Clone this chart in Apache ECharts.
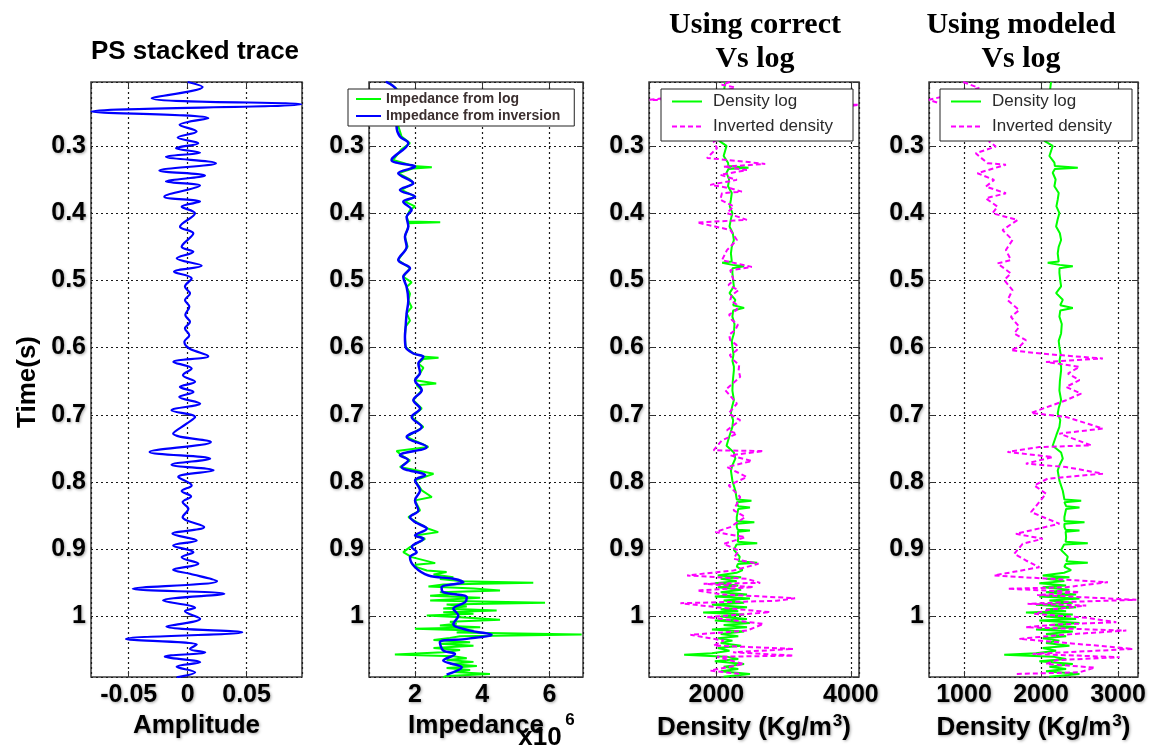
<!DOCTYPE html>
<html>
<head>
<meta charset="utf-8">
<script src="https://cdn.jsdelivr.net/npm/echarts@6/dist/echarts.min.js"></script>
<style>
  html, body { margin: 0; padding: 0; background: #fff; }
  #chart { width: 1151px; height: 753px; }
</style>
</head>
<body>
<div id="chart"></div>
<script>
// ---- PS stacked trace: amplitude against two-way time (s) ----
const psTime = [0.205,0.2126,0.229,0.238,0.2489,0.2588,0.2687,0.2787,0.2876,0.296,0.3035,0.310,0.316,0.3258,0.3367,0.3442,0.3531,0.3591,0.3755,0.3829,0.3904,0.4003,0.4202,0.430,0.450,0.4574,0.4673,0.4783,0.4872,0.4971,0.5095,0.5195,0.5294,0.5393,0.5517,0.5617,0.5716,0.5815,0.5915,0.6014,0.6128,0.6213,0.6312,0.6411,0.651,0.6585,0.666,0.6734,0.6833,0.6932,0.7032,0.7131,0.728,0.7404,0.7553,0.7652,0.7742,0.7826,0.7925,0.805,0.8134,0.8214,0.8298,0.8397,0.8521,0.867,0.877,0.8869,0.8943,0.9043,0.9117,0.9216,0.9306,0.9365,0.9474,0.9588,0.9663,0.9762,0.9871,0.9921,1.0035,1.015,1.0234,1.0333,1.0418,1.0482,1.0532,1.0597,1.0681,1.0746,1.083,1.0905];
const psAmp = [0,0.0127,-0.0305,0.0963,-0.0816,0.0175,-0.0068,0.0076,-0.0085,0.0090,-0.0099,0.0105,-0.0184,0.0240,-0.0240,0.0147,-0.0184,0.0105,-0.0198,0.0105,-0.0051,0.0062,-0.0065,0.0048,-0.0051,0.0048,-0.0093,0.0119,-0.0116,0.0034,-0.0023,0.0020,-0.0023,0.0014,-0.0020,0.0020,-0.0023,0.0014,-0.0028,0.0014,0.0175,-0.0121,0.0034,-0.0040,0.0063,-0.0066,0.0049,-0.0071,0.0106,-0.0137,0.0063,-0.0009,-0.0123,0.0197,-0.0323,0.0191,-0.0137,0.0220,-0.0080,0.0034,-0.0051,0.0029,-0.0043,0.0006,-0.0043,0.0140,-0.0129,0.0077,-0.0123,0.0049,-0.0051,0.0091,-0.0123,0.0020,0.0249,-0.0466,0.0311,-0.0209,0.0063,-0.0023,0.0106,-0.0180,0.0463,-0.0523,0.0077,0.0020,0.0149,-0.0194,0.0106,-0.0094,0.0063,-0.0094];

// ---- Acoustic impedance (x 10^6) ----
const impLogTime = [0.205,0.215,0.23,0.25,0.27,0.286,0.296,0.305,0.3209,0.330,0.3318,0.3335,0.3407,0.350,0.3556,0.3655,0.3755,0.383,0.390,0.3953,0.4053,0.4125,0.4136,0.415,0.420,0.435,0.450,0.4698,0.482,0.4947,0.503,0.510,0.520,0.530,0.540,0.549,0.560,0.569,0.584,0.599,0.6088,0.6138,0.6153,0.617,0.6237,0.630,0.638,0.6485,0.6535,0.656,0.6634,0.6783,0.6907,0.7032,0.718,0.7329,0.7478,0.7537,0.7603,0.7677,0.7777,0.7876,0.7975,0.8124,0.8223,0.8273,0.8422,0.8521,0.8596,0.8695,0.8745,0.8795,0.8844,0.8968,0.9043,0.9117,0.9206,0.9230,
  0.9266,0.9315,0.9340,0.9375,0.9415,0.9444,0.9474,0.9499,0.9524,0.9553,0.9583,0.9613,0.9638,0.9663,0.9693,0.9722,0.9762,0.9797,0.9822,0.9851,0.9881,0.9911,0.9936,0.9961,0.9985,1.0010,1.0050,1.0080,1.0109,1.0134,1.0159,1.0184,1.0209,1.0239,1.0268,1.0293,1.0318,1.0348,1.0383,1.0407,1.0437,1.0467,1.0497,1.0532,1.0566,1.0591,1.0621,1.0646,1.0675,1.0705,1.0735,1.0765,1.0795,1.0824,1.0854,1.0884,1.0904];
const impLogValue = [1.20,1.45,1.50,1.55,1.50,1.60,1.85,1.60,1.35,1.95,2.50,1.95,1.50,1.85,1.95,1.60,2.00,1.70,2.00,1.85,1.75,1.80,2.75,1.80,1.80,1.70,1.78,1.50,1.85,1.65,1.90,1.75,1.85,1.80,1.90,1.75,1.85,1.72,1.70,1.72,1.95,2.30,2.70,2.25,2.10,2.25,2.15,2.00,2.63,2.05,2.20,1.95,2.20,1.90,2.25,1.75,2.40,1.45,1.60,1.85,1.55,2.55,2.00,2.20,2.50,2.00,2.15,1.80,2.05,2.40,2.69,2.00,2.30,1.85,1.65,1.90,2.60,2.00,
  2.05,2.35,2.94,2.55,3.14,2.74,3.34,5.52,2.84,2.40,3.74,4.53,2.74,3.24,2.45,3.94,2.45,5.87,2.94,3.54,2.84,4.43,2.84,3.74,2.35,3.34,4.53,3.04,3.24,2.74,3.94,2.00,3.74,3.24,6.96,3.34,3.04,2.55,3.64,2.74,3.74,2.55,3.34,2.84,1.40,3.14,3.54,2.94,3.74,3.04,3.84,2.94,3.64,3.14,4.23,2.94,2.84];
const impInvTime = [0.2045,0.2166,0.235,0.255,0.2712,0.286,0.296,0.3209,0.331,0.3407,0.3556,0.3655,0.3755,0.383,0.3953,0.4053,0.420,0.435,0.450,0.4698,0.482,0.4947,0.510,0.530,0.549,0.569,0.584,0.599,0.6088,0.6138,0.6237,0.638,0.6485,0.6634,0.6783,0.6907,0.7032,0.718,0.7329,0.7478,0.7603,0.7677,0.7777,0.790,0.7975,0.8124,0.8273,0.8422,0.8521,0.8596,0.8695,0.8795,0.8844,0.8968,0.9043,0.9117,0.9266,0.9390,0.944,0.949,0.9564,0.9638,0.9713,0.9787,0.9886,0.9986,1.011,1.021,1.027,1.0333,1.0383,1.0507,1.0557,1.0656,1.0755,1.0865];
const impInvValue = [1.13,1.45,1.50,1.45,1.45,1.55,1.80,1.30,2.00,1.50,1.95,1.55,2.00,1.65,1.90,1.75,1.80,1.70,1.75,1.50,1.85,1.65,1.75,1.80,1.75,1.72,1.70,1.72,1.95,2.25,2.10,2.15,2.00,2.20,1.95,2.15,1.90,2.20,1.75,2.35,1.55,1.80,1.60,2.30,2.00,2.15,2.00,2.10,1.85,2.00,2.35,2.00,2.25,1.90,2.05,1.85,2.00,2.40,3.14,3.44,2.79,2.84,3.54,3.49,3.14,3.29,3.14,3.64,4.28,3.54,2.74,2.84,3.19,2.84,3.39,2.94];

// ---- Density log (kg/m^3), shared by both density panels ----
const densLogTime = [0.205,0.215,0.23,0.25,0.27,0.2836,0.2926,0.300,0.3151,0.325,0.330,0.3325,0.3345,0.340,0.350,0.360,0.370,0.380,0.390,0.400,0.410,0.420,0.430,0.440,0.450,0.460,0.472,0.474,0.477,0.479,0.482,0.489,0.500,0.509,0.519,0.529,0.537,0.541,0.545,0.554,0.565,0.579,0.590,0.599,0.610,0.620,0.628,0.634,0.650,0.664,0.678,0.690,0.698,0.708,0.718,0.730,0.746,0.756,0.765,0.775,0.783,0.798,0.813,0.826,0.828,0.830,0.836,0.838,0.840,0.852,0.858,0.860,0.862,0.867,0.871,0.872,0.874,0.882,0.889,0.891,0.893,0.901,0.911,0.918,0.920,0.922,0.926,0.931,0.935,
  0.9390,0.9415,0.9439,0.9474,0.9504,0.9539,0.9564,0.9603,0.9638,0.9673,0.9703,0.9733,0.9763,0.9797,0.9827,0.9862,0.9892,0.9921,0.9941,0.9971,1.0001,1.0036,1.0061,1.0096,1.0125,1.0160,1.0195,1.0225,1.0259,1.0294,1.0324,1.0359,1.0394,1.0434,1.0468,1.0508,1.0548,1.0568,1.0597,1.0632,1.0667,1.0707,1.0746,1.0781,1.0816,1.0856,1.0896];
const densLogValue = [2130,2120,2110,2100,2120,2130,2043,2152,2109,2174,2180,2478,2180,2152,2190,2174,2230,2217,2200,2239,2215,2196,2245,2261,2230,2217,2230,2087,2240,2413,2240,2239,2250,2261,2196,2283,2250,2413,2250,2239,2270,2261,2230,2239,2255,2240,2261,2261,2245,2239,2261,2230,2217,2250,2239,2200,2152,2261,2283,2240,2217,2239,2283,2304,2522,2304,2326,2500,2326,2304,2304,2565,2304,2304,2320,2500,2320,2326,2320,2608,2300,2261,2348,2330,2608,2320,2304,2391,2300,
  2022,2369,2065,2304,1978,2326,2022,2369,2065,2456,1978,2500,2109,2413,1935,2456,2065,2326,1804,2413,2065,2456,1978,2500,2109,2456,1935,2413,2065,2326,2022,2239,2065,2369,2022,2196,1935,1522,2152,2326,1978,2413,2109,2326,2065,2500,2109];

// ---- Inverted density using the correct Vs log ----
const invCorrTime = [0.205,0.209,0.213,0.218,0.2315,0.239,0.262,0.286,0.2935,0.3035,0.318,0.3233,0.327,0.331,0.336,0.343,0.3506,0.358,0.363,0.368,0.3705,0.380,0.390,0.400,0.410,0.414,0.425,0.440,0.455,0.470,0.480,0.485,
  0.500,0.507,0.5145,0.522,0.529,0.536,0.544,0.551,0.559,0.566,0.574,0.581,0.589,0.596,0.604,0.611,0.619,0.626,0.634,
  0.6436,0.6634,0.6833,0.698,0.708,0.723,0.728,0.7379,0.7528,0.754,0.7603,0.7687,0.7777,0.7926,0.805,0.8223,0.842,0.852,0.867,0.8745,0.882,0.892,0.9018,0.9142,0.9216,0.9315,0.939,0.944,0.950,0.9514,0.9564,0.9613,0.9673,0.9727,0.9767,0.9802,0.9862,0.9936,1.001,1.011,1.021,1.0273,1.0358,1.0432,1.0482,1.0532,1.0582,1.060,1.0706,1.0805,1.0855];
const invCorrValue = [2200,2080,2280,2150,1010,4120,2250,2133,1960,2010,1862,2405,2726,2109,2454,2059,2306,1911,2207,2380,2084,2059,2257,2158,2454,1714,2207,2306,2158,2084,2528,2207,
  2257,2180,2331,2230,2207,2300,2306,2190,2232,2320,2281,2190,2207,2300,2306,2200,2257,2340,2331,
  2355,2133,2306,2183,2355,2158,2306,2084,1960,2701,2207,2528,2158,2454,2183,2355,2257,2430,2207,1985,2430,2109,2331,2257,2627,2257,1566,2454,2652,1812,2553,1714,2084,3170,2899,1467,2010,2800,1862,2701,2454,1615,2109,1960,3145,2250,3145,2010,2405,1911,2355];

// ---- Inverted density using the modeled Vs log ----
const invModTime = [0.205,0.2067,0.214,0.222,0.2315,0.26,0.2836,0.2935,0.301,0.311,0.3258,0.328,0.3407,0.3506,0.3606,0.3705,0.378,0.3904,0.4003,0.4102,0.4251,0.44,0.4549,0.4698,0.4748,0.4897,0.4996,0.5145,0.5294,0.5443,0.5542,0.5691,0.579,0.589,0.599,0.6039,0.609,0.6163,0.6213,0.6287,0.6386,0.6485,0.6585,0.6684,0.6783,0.6972,0.7032,0.7205,0.728,0.7454,0.748,0.7553,0.7628,0.7727,0.7777,0.7876,0.795,0.805,0.8174,0.8298,0.8447,0.8621,0.877,0.8844,0.8919,0.9068,0.9167,0.9266,0.939,0.949,0.9564,0.9588,0.9637,0.968,0.9752,0.9782,0.9812,0.9837,0.990,0.9961,1.002,1.0085,1.012,1.016,1.021,1.027,1.0333,1.040,1.0482,1.0557,1.0606,1.065,1.0706,1.076,1.083,1.0855];
const invModValue = [990,978,1196,900,545,1300,1391,1326,1413,1152,1304,1544,1174,1391,1283,1544,1283,1435,1370,1696,1500,1630,1544,1609,1435,1609,1522,1630,1565,1717,1609,1717,1652,1804,1717,1609,2000,2804,2065,2500,2350,2500,2326,2522,2326,1870,2326,2804,2239,2652,1978,1565,2152,1804,2326,2804,2087,1913,2065,1978,1870,2239,1674,2022,1761,1652,1804,1978,1391,2869,2326,1565,2500,1950,3239,2400,1826,2587,2100,1913,2600,2978,2200,1804,3108,2300,1717,2400,3195,1891,3021,2200,2065,2700,2500,1674];

// ---- axis extents ----
const timeRange = [0.205, 1.09];
const ampRange = [-0.082, 0.097];
const impRange = [0.63, 7.0];
const densCorrRange = [1000, 4120];
const densModRange = [545, 3260];

const SANS = '"Liberation Sans", Arial, sans-serif';
const SERIF = '"Liberation Serif", "Times New Roman", serif';
const shadow = { textShadowColor: 'rgba(0,0,0,0.35)', textShadowBlur: 3, textShadowOffsetX: 1, textShadowOffsetY: 1 };
const labelFont = { fontSize: 25, fontWeight: 'bold', fontFamily: SANS, color: '#000' };
const fmt = v => String(+(+v).toFixed(4));

const toPoints = (values, times) => values.map((v, i) => [v, times[i]]);

const panels = [
  { left: 91, width: 211, range: ampRange, split: 4 },
  { left: 369, width: 214, range: impRange, split: 3 },
  { left: 649, width: 210, range: densCorrRange, split: 2 },
  { left: 929, width: 209, range: densModRange, split: 3 }
];

const grid = panels.map(p => ({
  left: p.left, top: 82, width: p.width, height: 595,
  show: true, borderColor: '#3c3c3c', borderWidth: 1.5, backgroundColor: 'transparent',
  containLabel: false, outerBoundsMode: 'none'
}));

const dotted = { show: true, lineStyle: { color: '#1a1a1a', type: [2, 3], width: 1.2 } };
const ticks = { show: true, inside: true, length: 6, lineStyle: { color: '#333', width: 1 } };

const densityName = '{t|Density (Kg/m}{s|3}{t|)}';
const nameStyle = Object.assign({}, labelFont, shadow, {
  fontSize: 26,
  rich: {
    t: Object.assign({}, labelFont, shadow, { fontSize: 26 }),
    s: Object.assign({}, labelFont, shadow, { fontSize: 17, verticalAlign: 'top', padding: [0, 0, 12, 1] })
  }
});
const axisNames = ['Amplitude', 'Impedance', densityName, densityName];

// bottom / left axes carry the labels; top / right copies only add the inner ticks of the box
const xAxis = panels.map((p, i) => ({
  type: 'value', gridIndex: i, min: p.range[0], max: p.range[1], splitNumber: p.split,
  axisLine: { show: false }, axisTick: ticks, splitLine: dotted,
  axisLabel: Object.assign({ showMinLabel: false, showMaxLabel: false, margin: 6, formatter: fmt }, labelFont, shadow),
  name: axisNames[i], nameLocation: 'middle', nameGap: 34, nameTextStyle: nameStyle
})).concat(panels.map((p, i) => ({
  type: 'value', gridIndex: i, position: 'top', min: p.range[0], max: p.range[1], splitNumber: p.split,
  axisLine: { show: false }, axisTick: ticks, splitLine: { show: false }, axisLabel: { show: false }
})));

const yAxis = panels.map((p, i) => ({
  type: 'value', gridIndex: i, inverse: true, min: timeRange[0], max: timeRange[1], splitNumber: 9,
  axisLine: { show: false }, axisTick: ticks, splitLine: dotted,
  axisLabel: Object.assign({ showMinLabel: false, showMaxLabel: false, margin: 5, formatter: fmt }, labelFont, shadow)
})).concat(panels.map((p, i) => ({
  type: 'value', gridIndex: i, position: 'right', inverse: true, min: timeRange[0], max: timeRange[1], splitNumber: 9,
  axisLine: { show: false }, axisTick: ticks, splitLine: { show: false }, axisLabel: { show: false }
})));

const line = (name, idx, values, times, color, width, extra) => Object.assign({
  name, type: 'line', xAxisIndex: idx, yAxisIndex: idx,
  data: toPoints(values, times), symbol: 'none', showSymbol: false,
  lineStyle: { color, width }, itemStyle: { color }, clip: true
}, extra || {});

const dash = [5, 3];
const series = [
  line('PS stacked trace', 0, psAmp, psTime, '#0000ff', 2.2, { smooth: 0.35 }),
  line('Impedance from log', 1, impLogValue, impLogTime, '#00ff00', 2),
  line('Impedance from inversion', 1, impInvValue, impInvTime, '#0000ff', 2.5, { smooth: 0.35 }),
  line('Density log', 2, densLogValue, densLogTime, '#00ff00', 2),
  line('Inverted density', 2, invCorrValue, invCorrTime, '#ff00ff', 2, { lineStyle: { color: '#ff00ff', width: 2, type: dash } }),
  line('Density log', 3, densLogValue, densLogTime, '#00ff00', 2),
  line('Inverted density', 3, invModValue, invModTime, '#ff00ff', 2, { lineStyle: { color: '#ff00ff', width: 2, type: dash } })
];

const legendBase = {
  orient: 'vertical', selectedMode: false, backgroundColor: '#fff',
  borderColor: '#222', borderWidth: 1, borderRadius: 0, z: 10,
  itemStyle: { opacity: 0 }
};
const legend = [
  Object.assign({}, legendBase, {
    left: 348, top: 89, data: ['Impedance from log', 'Impedance from inversion'],
    itemWidth: 25, itemHeight: 14, itemGap: 3, padding: [3, 14, 3, 7],
    textStyle: { fontSize: 14, fontWeight: 'bold', color: '#3b2f2f', fontFamily: SANS }
  }),
  Object.assign({}, legendBase, {
    left: 661, top: 89, data: ['Density log', 'Inverted density'],
    itemWidth: 30, itemHeight: 14, itemGap: 8, padding: [4, 20, 6, 10],
    textStyle: { fontSize: 17, color: '#2b2b2b', fontFamily: SANS, padding: [0, 0, 0, 6] }
  }),
  Object.assign({}, legendBase, {
    left: 940, top: 89, data: ['Density log', 'Inverted density'],
    itemWidth: 30, itemHeight: 14, itemGap: 8, padding: [4, 20, 6, 10],
    textStyle: { fontSize: 17, color: '#2b2b2b', fontFamily: SANS, padding: [0, 0, 0, 6] }
  })
];

const txt = (text, x, y, font, extra) => ({
  type: 'text', x, y, z: 20, silent: true,
  style: Object.assign({
    text, font, fill: '#000', align: 'center', verticalAlign: 'middle',
    shadowColor: 'rgba(0,0,0,0.35)', shadowBlur: 3, shadowOffsetX: 1, shadowOffsetY: 1
  }, extra || {})
});

const graphic = [
  txt('PS stacked trace', 195, 52, 'bold 26px ' + SANS),
  txt('Using correct', 755, 25, 'bold 30px ' + SERIF),
  txt('Vs log', 755, 59, 'bold 30px ' + SERIF),
  txt('Using modeled', 1021, 25, 'bold 30px ' + SERIF),
  txt('Vs log', 1021, 59, 'bold 30px ' + SERIF),
  Object.assign(txt('Time(s)', 0, 0, 'bold 26px ' + SANS), { x: 28, y: 382, rotation: Math.PI / 2 }),
  txt('x10', 540, 738, 'bold 26px ' + SANS),
  txt('6', 570, 720, 'bold 17px ' + SANS)
];

const chart = echarts.init(document.getElementById('chart'), null, { renderer: 'canvas' });
chart.setOption({
  animation: false,
  backgroundColor: '#fff',
  textStyle: { fontFamily: SANS },
  grid, xAxis, yAxis, legend, series, graphic
});
</script>
</body>
</html>
